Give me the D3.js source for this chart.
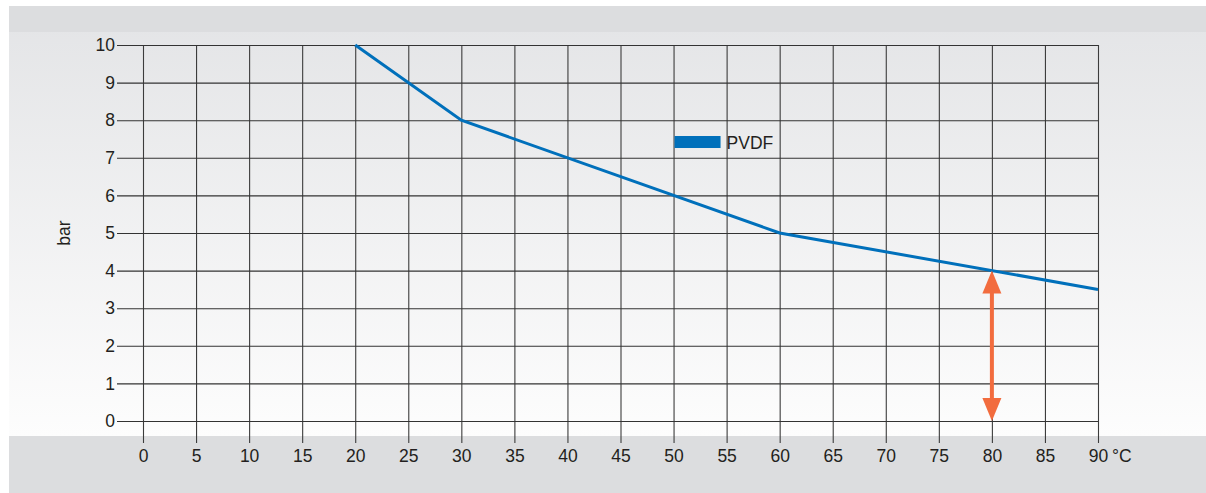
<!DOCTYPE html>
<html>
<head>
<meta charset="utf-8">
<script src="https://cdn.jsdelivr.net/npm/d3@7"></script>
<style>
  body { margin: 0; background: #fff; }
  text { font-family: "Liberation Sans", Arial, sans-serif; fill: #231f20; }
</style>
</head>
<body>
<div id="chart"></div>
<script>
// data
var temps = [20, 30, 60, 90];
var pressures = [10, 8, 5, 3.5];
var xTicks = [0, 5, 10, 15, 20, 25, 30, 35, 40, 45, 50, 55, 60, 65, 70, 75, 80, 85, 90];
var yTicks = [0, 1, 2, 3, 4, 5, 6, 7, 8, 9, 10];
var seriesName = 'PVDF';
var markTemp = 80;
var markPressure = 4;

var W = 1206, H = 493;
var margin = { top: 45, left: 143, right: 108, bottom: 72 };
var width = W - margin.left - margin.right;
var height = H - margin.top - margin.bottom;
var blue = '#0070bb';
var orange = '#f26c3e';
var fs = '17.5px';

var svg = d3.select('#chart')
  .append('svg')
  .attr('width', W)
  .attr('height', H);

// background gradient
var defs = svg.append('defs');
var grad = defs.append('linearGradient')
  .attr('id', 'bg')
  .attr('x1', 0).attr('y1', 0).attr('x2', 0).attr('y2', 1);
grad.append('stop').attr('offset', '0%').attr('stop-color', '#e3e4e6');
grad.append('stop').attr('offset', '100%').attr('stop-color', '#fdfdfd');

svg.append('rect')
  .attr('x', 9).attr('y', 6)
  .attr('width', W - 9).attr('height', 430)
  .attr('fill', 'url(#bg)');
svg.append('rect')
  .attr('x', 9).attr('y', 6)
  .attr('width', W - 9).attr('height', 26)
  .attr('fill', '#dcdddf');
svg.append('rect')
  .attr('x', 9).attr('y', 436)
  .attr('width', W - 9).attr('height', 57)
  .attr('fill', '#dcdddf');

var g = svg.append('g')
  .attr('transform', 'translate(' + margin.left + ',' + margin.top + ')');

//set scales
var xScale = d3.scaleLinear().domain([0, 90]).range([0, width]);
var yScale = d3.scaleLinear().domain([0, 10]).range([height, 0]);

//x axis with grid
var xPad = 7;
var axisX = d3.axisBottom(xScale)
  .tickValues(xTicks)
  .tickSize(-height - 22)
  .tickPadding(xPad)
  .tickFormat(function (d) { return d; });

var gx = g.append('g')
  .attr('class', 'axisX')
  .attr('transform', 'translate(0,' + (height + 22) + ')')
  .call(axisX);
gx.selectAll('line').attr('stroke', '#3c3c3c').attr('stroke-width', 1.1);
gx.selectAll('text').style('font-size', fs);
gx.select('.domain').remove();

//y axis with grid
var axisY = d3.axisLeft(yScale)
  .tickValues(yTicks)
  .tickSize(-width - 26)
  .tickPadding(2)
  .tickFormat(function (d) { return d; });

var gy = g.append('g')
  .attr('class', 'axisY')
  .attr('transform', 'translate(-26,0)')
  .call(axisY);
gy.selectAll('line').attr('stroke', '#333').attr('stroke-width', 1.1);
gy.selectAll('text').style('font-size', fs);
gy.select('.domain').remove();

// unit °C after 90
g.append('text')
  .attr('x', xScale(90) + 14)
  .attr('y', height + 22 + xPad)
  .attr('dy', '0.71em')
  .style('font-size', fs)
  .text('°C');

// y title
g.append('text')
  .attr('transform', 'translate(' + (-73) + ',' + yScale(5) + ') rotate(-90)')
  .attr('text-anchor', 'middle')
  .style('font-size', fs)
  .text('bar');

//line
var line = d3.line()
  .x(function (d, i) { return xScale(temps[i]); })
  .y(function (d) { return yScale(d); });

g.append('path')
  .attr('d', line(pressures))
  .attr('fill', 'none')
  .attr('stroke', blue)
  .attr('stroke-width', 3);

//legend
g.append('rect')
  .attr('x', xScale(50) + 1)
  .attr('y', yScale(7.42) - 6)
  .attr('width', 46)
  .attr('height', 12)
  .attr('fill', blue);
g.append('text')
  .attr('x', xScale(50) + 53)
  .attr('y', yScale(7.42) + 6.5)
  .style('font-size', fs)
  .text(seriesName);

//double arrow
var ax = xScale(markTemp);
var yTop = yScale(markPressure);
var yBot = yScale(0);
var headH = 23, headW = 19;
g.append('rect')
  .attr('x', ax - 2)
  .attr('y', yTop + headH - 1)
  .attr('width', 4)
  .attr('height', yBot - yTop - 2 * headH + 2)
  .attr('fill', orange);
g.append('path')
  .attr('d', 'M' + ax + ',' + yTop + 'L' + (ax - headW / 2) + ',' + (yTop + headH) + 'L' + (ax + headW / 2) + ',' + (yTop + headH) + 'Z')
  .attr('fill', orange);
g.append('path')
  .attr('d', 'M' + ax + ',' + yBot + 'L' + (ax - headW / 2) + ',' + (yBot - headH) + 'L' + (ax + headW / 2) + ',' + (yBot - headH) + 'Z')
  .attr('fill', orange);
</script>
</body>
</html>
